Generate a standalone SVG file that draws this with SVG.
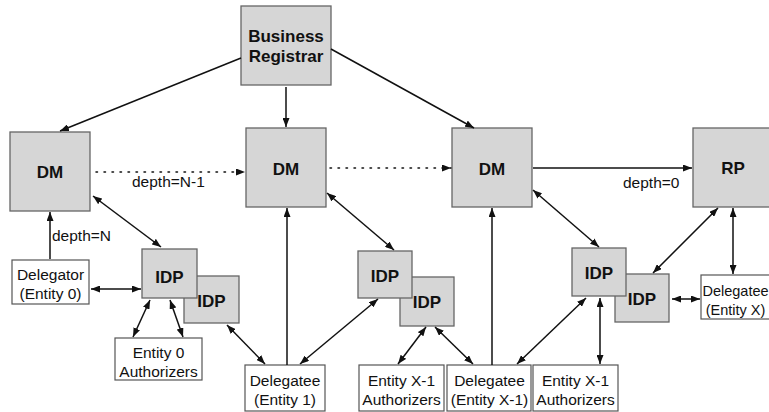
<svg xmlns="http://www.w3.org/2000/svg" width="769" height="412" viewBox="0 0 769 412">
<defs>
<marker id="ah" viewBox="0 0 9 7" refX="9" refY="3.5" markerWidth="9" markerHeight="7" markerUnits="userSpaceOnUse" orient="auto-start-reverse">
<path d="M0,0 L9,3.5 L0,7 z" fill="#111"/>
</marker>
</defs>
<style>
.g{fill:#d6d6d6;stroke:#666;stroke-width:1.3}
.w{fill:#fff;stroke:#555;stroke-width:1.2}
.b{font-family:"Liberation Sans",Arial,sans-serif;font-weight:bold;font-size:17px;fill:#111;text-anchor:middle}
.t{font-family:"Liberation Sans",Arial,sans-serif;font-size:15.5px;fill:#111;text-anchor:middle}
.l{font-family:"Liberation Sans",Arial,sans-serif;font-size:15.5px;fill:#111}
.c line{stroke:#111;stroke-width:1.5;fill:none}
.one{marker-end:url(#ah)}
.two{marker-start:url(#ah);marker-end:url(#ah)}
.dot{stroke-dasharray:1.5 6.5;stroke-linecap:round}
</style>
<g id="br"><rect class="g" x="241" y="6" width="90" height="79"/><text class="b" x="286" y="42">Business</text><text class="b" x="286" y="62">Registrar</text></g>
<g id="dm1"><rect class="g" x="10" y="132" width="80" height="79"/><text class="b" x="50" y="178">DM</text></g>
<g id="dm2"><rect class="g" x="246" y="128" width="80" height="79"/><text class="b" x="286" y="175">DM</text></g>
<g id="dm3"><rect class="g" x="452" y="128" width="80" height="79"/><text class="b" x="492" y="175">DM</text></g>
<g id="rp"><rect class="g" x="693" y="128" width="80" height="79"/><text class="b" x="733" y="174">RP</text></g>
<g id="idp1b"><rect class="g" x="184" y="276" width="55" height="47"/><text class="b" x="211.5" y="307">IDP</text></g>
<g id="idp1a"><rect class="g" x="142" y="249" width="55" height="49"/><text class="b" x="169.5" y="283">IDP</text></g>
<g id="idp2b"><rect class="g" x="400" y="277" width="54" height="49"/><text class="b" x="427" y="308">IDP</text></g>
<g id="idp2a"><rect class="g" x="358" y="251" width="54" height="47"/><text class="b" x="385" y="282">IDP</text></g>
<g id="idp3b"><rect class="g" x="615" y="274" width="54" height="48"/><text class="b" x="642" y="305">IDP</text></g>
<g id="idp3a"><rect class="g" x="572" y="248" width="54" height="48"/><text class="b" x="599" y="279">IDP</text></g>
<g id="delegator"><rect class="w" x="12" y="260" width="77" height="44"/><text class="t" x="50.5" y="280">Delegator</text><text class="t" x="50.5" y="299">(Entity 0)</text></g>
<g id="auth0"><rect class="w" x="115" y="338" width="87" height="42"/><text class="t" x="158.5" y="358">Entity 0</text><text class="t" x="158.5" y="377">Authorizers</text></g>
<g id="delegatee1"><rect class="w" x="245" y="365" width="80" height="46"/><text class="t" x="285" y="386">Delegatee</text><text class="t" x="285" y="405">(Entity 1)</text></g>
<g id="authx1a"><rect class="w" x="359" y="365" width="85" height="46"/><text class="t" x="401.5" y="386">Entity X-1</text><text class="t" x="401.5" y="405">Authorizers</text></g>
<g id="delegateex1"><rect class="w" x="447" y="365" width="84" height="46"/><text class="t" x="489.5" y="386">Delegatee</text><text class="t" x="489.5" y="405">(Entity X-1)</text></g>
<g id="authx1b"><rect class="w" x="533" y="365" width="85" height="46"/><text class="t" x="575.5" y="386">Entity X-1</text><text class="t" x="575.5" y="405">Authorizers</text></g>
<g id="delegateex"><rect class="w" x="701" y="275" width="80" height="44"/><text class="t" x="735.5" y="296" style="font-size:14.5px">Delegatee</text><text class="t" x="735.5" y="315" style="font-size:14.5px">(Entity X)</text></g>
<g id="connectors" class="c">
<line class="one" x1="241" y1="58" x2="60" y2="131"/>
<line class="one" x1="286" y1="87" x2="286" y2="127"/>
<line class="one" x1="331" y1="49" x2="474" y2="128"/>
<line class="one dot" x1="96" y1="172" x2="245" y2="172"/>
<line class="one dot" x1="330" y1="168" x2="451" y2="168"/>
<line class="one" x1="533" y1="168" x2="692" y2="168"/>
<line class="one" x1="50" y1="259" x2="50" y2="212"/>
<line class="two" x1="93" y1="196" x2="161" y2="247"/>
<line class="two" x1="91" y1="289" x2="141" y2="289"/>
<line class="two" x1="150" y1="300" x2="133" y2="337"/>
<line class="two" x1="170" y1="300" x2="183" y2="337"/>
<line class="two" x1="227" y1="325" x2="265" y2="364"/>
<line class="one" x1="287" y1="365" x2="287" y2="208"/>
<line class="two" x1="300" y1="364" x2="378" y2="299"/>
<line class="two" x1="327" y1="193" x2="394" y2="250"/>
<line class="two" x1="426" y1="327" x2="398" y2="364"/>
<line class="two" x1="435" y1="327" x2="473" y2="364"/>
<line class="one" x1="492" y1="365" x2="492" y2="208"/>
<line class="two" x1="586" y1="298" x2="517" y2="364"/>
<line class="two" x1="600" y1="298" x2="600" y2="364"/>
<line class="two" x1="533" y1="190" x2="599" y2="247"/>
<line class="two" x1="718" y1="208" x2="653" y2="273"/>
<line class="two" x1="733" y1="208" x2="733" y2="274"/>
<line class="two" x1="672" y1="299" x2="700" y2="299"/>
</g>
<g id="labels">
<text class="l" x="132" y="187">depth=N-1</text>
<text class="l" x="52" y="241">depth=N</text>
<text class="l" x="623" y="188">depth=0</text>
</g>
</svg>
